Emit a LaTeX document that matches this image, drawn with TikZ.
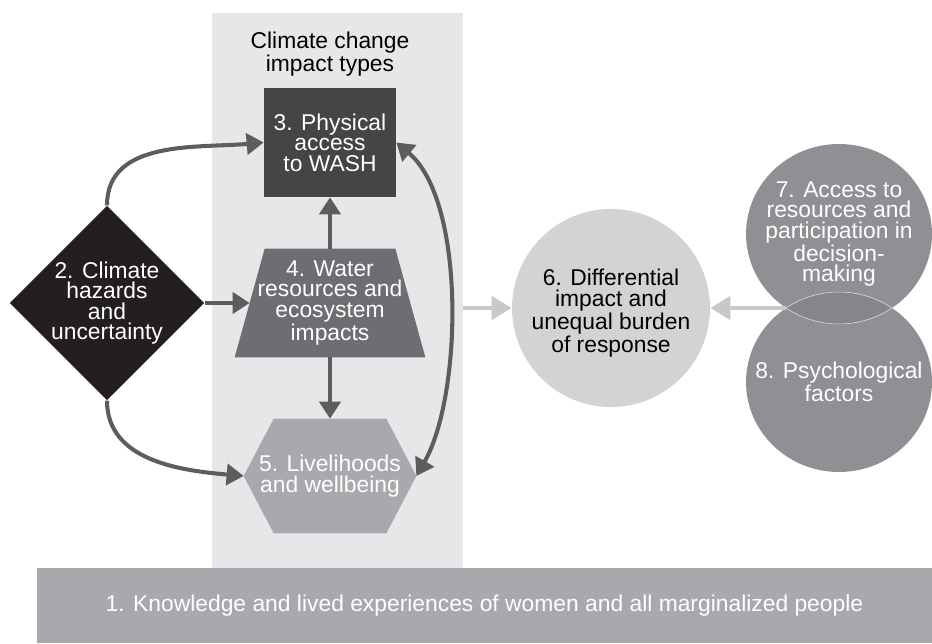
\documentclass[tikz,border=0pt]{standalone}
\usepackage{fontspec}
\setmainfont{Liberation Sans}
\usetikzlibrary{shapes.geometric, arrows.meta, backgrounds}
\definecolor{bandgrey}{HTML}{E6E7E8}
\definecolor{washgrey}{HTML}{454545}
\definecolor{watergrey}{HTML}{6D6E71}
\definecolor{livegrey}{HTML}{A7A9AC}
\definecolor{hazblack}{HTML}{231F20}
\definecolor{edgegrey}{HTML}{5C5D5F}
\definecolor{diffgrey}{HTML}{D1D3D4}
\definecolor{factorgrey}{HTML}{8F9093}
\definecolor{lensgrey}{HTML}{858689}
\definecolor{lightgrey}{HTML}{C7C8CA}
\definecolor{bargrey}{HTML}{A7A9AC}
\tikzset{
    x=0.02cm, y=0.02cm, % one unit is one pixel of the sketch
    every node/.style={font=\fontsize{13pt}{11.7pt}\selectfont, align=center, inner sep=0pt},
    >={Triangle[length=9.7pt, width=12pt]}, % big flat heads
    darkedge/.style={->, draw=edgegrey, line width=2.3pt},
    lightedge/.style={->, draw=lightgrey, line width=2.8pt, >={Triangle[length=11.4pt, width=13pt]}},
    hazbox/.style={diamond, fill=hazblack, text=white, minimum width=1.94cm, minimum height=1.96cm},
    washbox/.style={rectangle, fill=washgrey, text=white, minimum width=2.64cm, minimum height=2.18cm},
    holder/.style={rectangle, text=white}, % text only, the shape is filled behind it
    bandbox/.style={rectangle, fill=bandgrey, minimum width=5.02cm, minimum height=11.1cm},
    disc/.style={circle, minimum size=3.96cm},
    factor/.style={ellipse, fill=factorgrey, minimum width=3.72cm, minimum height=3.6cm},
    knowbox/.style={rectangle, fill=bargrey, text=white, minimum width=17.9cm, minimum height=1.5cm},
    lensline/.style={draw=white!75!factorgrey, line width=0.3pt},
}
\begin{document}
\begin{tikzpicture}
\useasboundingbox (0,0) rectangle (932,643);
% hazards and the impact types
\node[hazbox] (haz) at (107,340) {2. Climate\\hazards\\and\\uncertainty};
\node (types) at (330,589) {Climate change\\impact types};
\node[washbox] (wash) at (330,500.5) {3. Physical\\access\\to WASH};
\node[holder, minimum width=3.2cm, minimum height=2.16cm] (water) at (330,340) {4. Water\\resources and\\ecosystem\\impacts};
\node[holder, minimum width=3.44cm, minimum height=2.28cm] (live) at (330,167) {5. Livelihoods\\and wellbeing};
% outcome and the two factors
\node[disc, fill=diffgrey, label={[yshift=-0.1cm]center:6. Differential\\impact and\\unequal burden\\of response}] (diff) at (611,335) {};
\node[factor, label={[text=white]center:7. Access to\\resources and\\participation in\\decision-\\making}] (acc) at (839,409) {};
\node[factor, label={[text=white]center:8. Psychological\\factors}] (psy) at (839,261) {};
\coordinate (lens) at (786,335);
\begin{scope}
  \clip (acc.center) ellipse [x radius=1.86cm, y radius=1.8cm];
  \fill[lensgrey] (psy.center) ellipse [x radius=1.86cm, y radius=1.8cm];
  \draw[lensline] (psy.center) ellipse [x radius=1.86cm, y radius=1.8cm];
\end{scope}
\begin{scope}
  \clip (psy.center) ellipse [x radius=1.86cm, y radius=1.8cm];
  \draw[lensline] (acc.center) ellipse [x radius=1.86cm, y radius=1.8cm];
\end{scope}
% base
\node[knowbox] (know) at (484.5,37.5) {1. Knowledge and lived experiences of women and all marginalized people};
\begin{scope}[on background layer]
  \node[bandbox] (band) at (337.5,352.5) {};
  \fill[watergrey] ([xshift=0.3cm]water.north west) -- ([xshift=-0.3cm]water.north east)
    -- ([xshift=0.3cm]water.south east) -- ([xshift=-0.3cm]water.south west) -- cycle;
  \fill[livegrey] (live.west) -- ([xshift=0.6cm]live.north west) -- ([xshift=-0.6cm]live.north east)
    -- (live.east) -- ([xshift=-0.6cm]live.south east) -- ([xshift=0.6cm]live.south west) -- cycle;
\end{scope}
\draw[darkedge] (haz.north) to[out=90, in=185] (wash.west);
\draw[darkedge] (haz.east) -- (water.west);
\draw[darkedge] (haz.south) to[out=-90, in=175] (live.west);
\draw[darkedge] (water.north) -- (wash.south);
\draw[darkedge] (water.south) -- (live.north);
\draw[darkedge, <->] (wash.east) to[out=-40, in=60, looseness=0.7] (live.east);
\draw[lightedge] (band.east |- diff.west) -- (diff.west);
\draw[lightedge] (lens) -- (diff.east);
\end{tikzpicture}
\end{document}
